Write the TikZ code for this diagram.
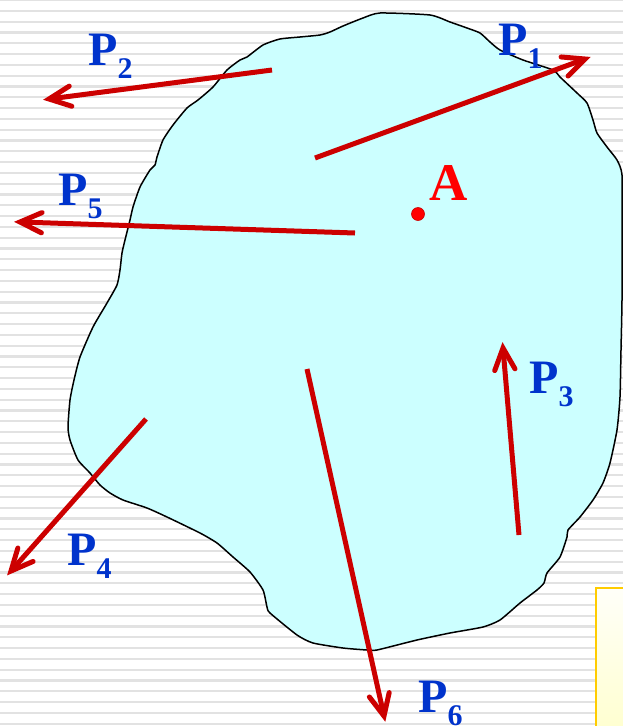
\documentclass[tikz,border=0pt]{standalone}
\usepackage{fontspec}
\setmainfont{Liberation Serif}
\usetikzlibrary{calc}
\definecolor{forcered}{HTML}{CC0000}
\definecolor{lblblue}{HTML}{0033CC}
\definecolor{blobfill}{HTML}{CCFFFF}
\definecolor{stripe}{HTML}{E2E2E2}
\definecolor{boxedge}{HTML}{FFCC00}
\tikzset{
  force/.style={draw=forcered, line width=5pt, line cap=butt},
  forcehead/.style={draw=forcered, line width=5pt, line cap=round, line join=miter, miter limit=10},
  lbl/.style={anchor=base west, inner sep=0pt, text=lblblue, font=\bfseries},
  bgstripe/.style={draw=stripe, line width=2.2pt},
}
\newcommand{\plabel}[1]{\fontsize{48}{48}\selectfont P\raisebox{-13pt}{\fontsize{30}{30}\selectfont #1}}
\newcommand{\forcearrow}[2]{%
  \draw[force] (#1) -- ($(#2)!3pt!(#1)$);
  \draw[forcehead] ($(#2)!24pt!25:(#1)$) -- (#2) -- ($(#2)!24pt!-25:(#1)$);
}
\begin{document}
\begin{tikzpicture}[x=1pt,y=-1pt]
\useasboundingbox (0,0) rectangle (623,726);
\clip (0,0) rectangle (623,726);
\fill[white] (0,0) rectangle (623,726);
% background stripes
\foreach \i in {0,...,67} {
  \draw[bgstripe] (0,{\i*10.8}) -- (623,{\i*10.8});
}
% yellow box (partly visible)
\shade[top color=white!70!yellow!8, bottom color=yellow!22, draw=boxedge, line width=2pt]
  (596,588) rectangle (660,760);
% body
\draw[fill=blobfill, line width=1.5pt, line join=round]
 plot[smooth cycle, tension=0.35] coordinates {
 (380,13) (430,15) (450,22) (467,28) (480,33) (490,42) (500,50) (523,60)
 (553,70) (560,77) (577,93) (587,103) (593,120) (597,133) (607,147) (617,160)
 (622,175) (622,230) (622,300) (621,350) (620,397) (617,430) (610,463) (603,483)
 (593,500) (580,517) (568,530) (567,537) (560,557) (547,573) (544,583)
 (537,590) (520,603) (500,620) (483,627) (450,633) (417,640) (377,650)
 (367,650) (343,648) (313,643) (297,635) (270,613) (267,607) (263,590)
 (250,572) (233,557) (217,543) (200,533) (167,517) (147,508) (123,500)
 (110,493) (100,485) (90,473) (78,460) (70,440) (68,427) (70,400)
 (74,380) (80,357) (93,327) (107,303) (117,285) (120,270) (122,253)
 (125,240) (130,220) (133,207) (140,187) (150,170) (155,165) (157,157)
 (163,140) (173,125) (187,108) (198,100) (213,87) (227,70)
 (240,60) (247,57) (263,45) (280,39) (300,37) (320,35) (330,32) (343,26)
 (363,18)};
% point A
\fill[red, draw=red!80!black, line width=0.6pt] (418,214) circle (6.5pt);
\node[anchor=base west, inner sep=0pt, text=red, font=\bfseries\fontsize{53}{53}\selectfont] (lA) at (429,200) {A};
% force endpoints
\coordinate (p1s) at (315,158); \coordinate (p1e) at (585,59);
\coordinate (p2s) at (272,70);  \coordinate (p2e) at (49,99);
\coordinate (p3s) at (519,535); \coordinate (p3e) at (503,348);
\coordinate (p4s) at (146,419); \coordinate (p4e) at (11,571);
\coordinate (p5s) at (355,233); \coordinate (p5e) at (20,222);
\coordinate (p6s) at (307,369); \coordinate (p6e) at (384,716);
\forcearrow{p1s}{p1e}
\forcearrow{p2s}{p2e}
\forcearrow{p3s}{p3e}
\forcearrow{p4s}{p4e}
\forcearrow{p5s}{p5e}
\forcearrow{p6s}{p6e}
% labels
\node[lbl] (l1) at (498,55)  {\plabel{1}};
\node[lbl] (l2) at (88,65)   {\plabel{2}};
\node[lbl] (l3) at (529,393) {\plabel{3}};
\node[lbl] (l4) at (67,565)  {\plabel{4}};
\node[lbl] (l5) at (58,205)  {\plabel{5}};
\node[lbl] (l6) at (418,712) {\plabel{6}};
\end{tikzpicture}
\end{document}
